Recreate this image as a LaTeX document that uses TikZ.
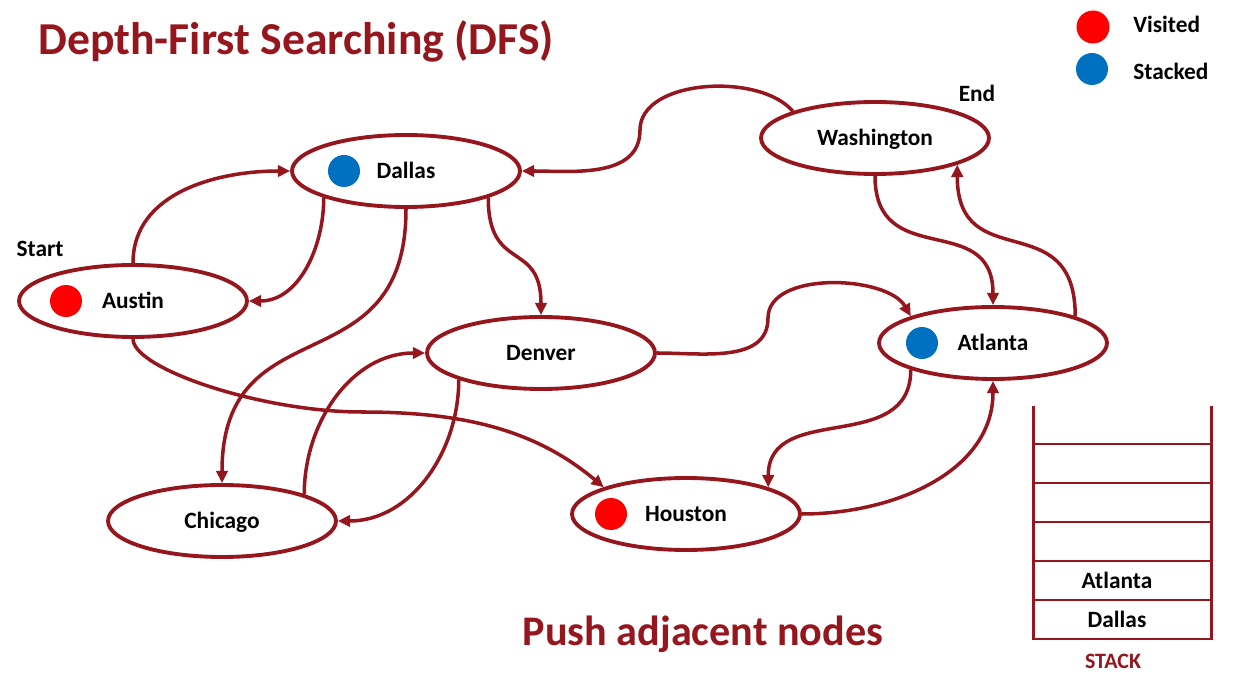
\documentclass[tikz,border=0pt]{standalone}
\usepackage{fontspec}
\setmainfont{Carlito}
\usetikzlibrary{shapes.geometric,arrows.meta,calc,positioning}

\definecolor{dfsred}{RGB}{150,22,30}
\definecolor{visited}{RGB}{255,0,0}
\definecolor{stacked}{RGB}{0,112,192}

\begin{document}
\begin{tikzpicture}[x=0.02cm,y=0.02cm,>={Triangle[length=7pt,width=6.5pt]},
  city/.style={ellipse, draw=dfsred, fill=white, line width=2.2pt, minimum width=4.56cm, minimum height=1.44cm,
    inner sep=0pt, font=\fontsize{13.3}{16}\selectfont\bfseries, text height=0.84em, text depth=0pt},
  link/.style={->, draw=dfsred, line width=2pt},
  tag/.style={font=\fontsize{13.3}{16}\selectfont\bfseries, inner sep=0pt}]

\useasboundingbox (0,0) rectangle (1248,-678);

% Stack geometry
\def\stackleft{1033}
\def\stackright{1211}
\def\stacktop{406}
\def\stackbottom{639}

% Title and caption
\node[anchor=base west, inner sep=0pt, text=dfsred, font=\fontsize{26}{30}\selectfont\bfseries] (title) at (38,-55) {Depth-First Searching (DFS)};
\node[anchor=base, inner sep=0pt, text=dfsred, font=\fontsize{24}{28}\selectfont\bfseries] (caption) at (703,-645) {Push adjacent nodes};

% Cities
\node[city] (dallas) at (406,-171) {Dallas};
\node[city] (washington) at (875,-138) {Washington};
\node[city] (austin) at (133,-301) {Austin};
\node[city] (denver) at (541,-353) {Denver};
\node[city] (atlanta) at (993,-343) {Atlanta};
\node[city] (chicago) at (222,-521) {Chicago};
\node[city] (houston) at (686,-514) {Houston};

\node[tag, anchor=base] (start) at (40,-257) {Start};
\node[tag, anchor=base] (end) at (977,-102) {End};

% Visited / stacked marks
\foreach \n/\c/\o in {austin/visited/67, dallas/stacked/62, atlanta/stacked/71, houston/visited/75}
  \fill[\c] ($(\n.center)+(-\o,0)$) circle[radius=0.32cm];

% Bend points of the wavy links
\coordinate (bendwd) at (640,-130);
\coordinate (bendda) at (768,-318);
\coordinate (bendah) at (362,-412);

% Links
\draw[link] (austin.north) to[out=90,in=180] (dallas.west);
\draw[link] (dallas.198) to[out=-90,in=0] (austin.east);
\draw[link] (dallas.south) to[out=-90,in=90,looseness=1.4] (chicago.north);
\draw[link] (dallas.-18) to[out=-90,in=90,looseness=1.5] (denver.north);
\draw[link] (washington.162) to[out=130,in=90,looseness=0.85] (bendwd) to[out=-90,in=0] (dallas.east);
\draw[link] (washington.south) to[out=-90,in=90,looseness=1.4] (atlanta.north);
\draw[link] (atlanta.18) to[out=90,in=-90,looseness=1.5] (washington.-18);
\draw[link] (denver.east) to[out=0,in=-90] (bendda) to[out=90,in=120,looseness=0.85] (atlanta.162);
\draw[link] (atlanta.198) to[out=-90,in=90,looseness=1.2] (houston.18);
\draw[link] (houston.east) to[out=0,in=-90] (atlanta.south);
\draw[link] (austin.south) .. controls +(0,-30) and +(-100,0) .. (bendah)
  .. controls +(100,0) and +(-69,58) .. (houston.162);
\draw[link] (chicago.18) to[out=90,in=180] (denver.west);
\draw[link] (denver.198) to[out=-90,in=0] (chicago.east);

% Legend
\fill[visited] (1093,-27) circle[radius=0.33cm];
\node[tag, anchor=base west] (lgvisited) at (1133,-33) {Visited};
\fill[stacked] (1092,-69) circle[radius=0.32cm];
\node[tag, anchor=base west] (lgstacked) at (1133,-80) {Stacked};

% Stack
\draw[dfsred, line width=1.7pt] (\stackleft,-\stacktop) -- (\stackleft,-\stackbottom) -- (\stackright,-\stackbottom) -- (\stackright,-\stacktop);
\foreach \y in {444,483,522,561,600}
  \draw[dfsred, line width=1.7pt] (\stackleft,-\y) -- (\stackright,-\y);
\node[tag, text height=0.84em, text depth=0pt] (slot1) at (1117,-581) {Atlanta};
\node[tag, text height=0.84em, text depth=0pt] (slot0) at (1117,-620) {Dallas};
\node[tag, text=dfsred, font=\fontsize{12.5}{15}\selectfont\bfseries, anchor=base] (stacklbl) at (1113,-668) {STACK};

\end{tikzpicture}
\end{document}
